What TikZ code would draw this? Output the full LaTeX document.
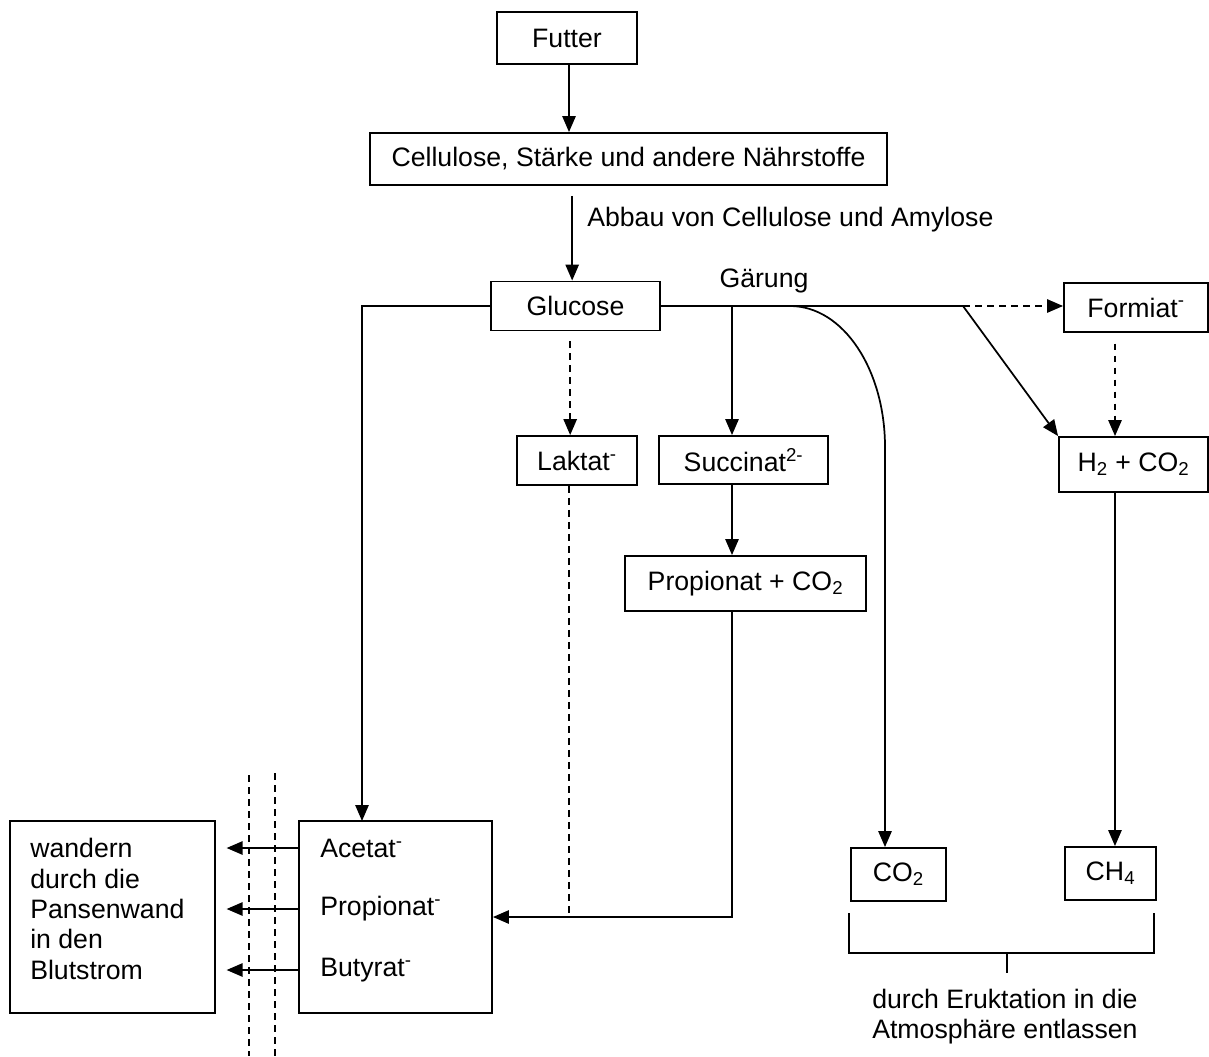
\documentclass[tikz,border=0pt]{standalone}
\usepackage{fontspec}
\setmainfont{Liberation Sans}
\usetikzlibrary{arrows.meta}

\begin{document}
\begin{tikzpicture}[x=0.75pt, y=-0.75pt, font=\fontsize{20}{22.75}\selectfont,
    kasten/.style={draw=black, line width=1.4pt, inner sep=0pt},
    beschrift/.style={inner xsep=0pt},
    linie/.style={line width=1.3pt},
    pfeil/.style={linie, -{Triangle[length=12pt, width=10pt]}},
    gestrichelt/.style={dash pattern=on 5pt off 4pt}]
    \useasboundingbox (0,0) rectangle (1209,1056);
    % Futter und Abbau
    \node[kasten, minimum width=105pt, minimum height=39pt] (futter) at (567,38) {Futter};
    \node[kasten, minimum width=387.75pt, minimum height=39pt] (cellulose) at (628.5,159) {Cellulose, Stärke und andere Nährstoffe};
    \node[kasten, minimum width=126.75pt, minimum height=36.75pt] (glucose) at (575.5,306) {Glucose};
    \node[beschrift, anchor=west] (abbau) at (587,220) {Abbau von Cellulose und Amylose};
    \node (gaerung) at (764,281) {Gärung};
    \draw[pfeil] ([xshift=1.5pt]futter.south) -- ([xshift=1.5pt]futter.south |- cellulose.north);
    \draw[pfeil, shorten <=7.5pt] ([xshift=-2.5pt]glucose.north |- cellulose.south) -- ([xshift=-2.5pt]glucose.north);
    % Gaerungsprodukte
    \node[kasten, minimum width=108pt, minimum height=36.75pt] (formiat) at (1136,307.5) {Formiat\textsuperscript{-}};
    \node[kasten, minimum width=111.75pt, minimum height=41.25pt] (h2co2) at (1133.5,464.5) {H\textsubscript{2} + CO\textsubscript{2}};
    \node[kasten, minimum width=90pt, minimum height=36.75pt] (laktat) at (577,460.5) {Laktat\textsuperscript{-}};
    \node[kasten, minimum width=126.75pt, minimum height=36pt] (succinat) at (743.5,460) {Succinat\textsuperscript{2-}};
    \node[kasten, minimum width=180.75pt, minimum height=41.25pt] (propionat) at (745.5,583.5) {Propionat + CO\textsubscript{2}};
    \node[kasten, minimum width=71.25pt, minimum height=39.75pt] (co2) at (898.5,874.5) {CO\textsubscript{2}};
    \node[kasten, minimum width=68.25pt, minimum height=39.75pt] (ch4) at (1110.5,873.5) {CH\textsubscript{4}};
    \coordinate (abzw) at (963,306);
    \coordinate (abzwS) at (732,306);
    \coordinate (abzwC) at (790,306);
    \coordinate (bogen) at (885,447);
    \draw[linie] (glucose.east) -- (abzw);
    \draw[pfeil, gestrichelt] (abzw) -- (abzw -| formiat.west);
    \draw[pfeil] (abzw) -- (h2co2.north west);
    \draw[pfeil, gestrichelt, shorten <=8pt] ([xshift=-15.75pt]formiat.south) -- ([xshift=-15.75pt]formiat.south |- h2co2.north);
    \draw[pfeil, gestrichelt, shorten <=7.5pt] ([xshift=-4pt]glucose.south) -- ([xshift=-4pt]glucose.south |- laktat.north);
    \draw[pfeil] (abzwS) -- (abzwS |- succinat.north);
    \draw[pfeil] (abzwS |- succinat.south) -- (abzwS |- propionat.north);
    \draw[pfeil] (abzwC) .. controls (843.5,306) and (885,370) .. (bogen) -- (bogen |- co2.north);
    \draw[pfeil] ([xshift=-13.9pt]h2co2.south) -- ([xshift=-13.9pt]h2co2.south |- ch4.north);
    % Fettsaeuren
    \node[kasten, minimum width=144.75pt, minimum height=144pt] (saeuren) at (395.5,917) {};
    \node[beschrift, anchor=west] (acetat) at (320,848) {Acetat\textsuperscript{-}};
    \node[beschrift, anchor=west] (propionat2) at (320,909) {Propionat\textsuperscript{-}};
    \node[beschrift, anchor=west] (butyrat) at (320,970) {Butyrat\textsuperscript{-}};
    \coordinate (acin) at (362,821);
    \draw[pfeil] (glucose.west) -| (acin);
    \draw[pfeil] (propionat.south -| abzwS) |- (saeuren.east);
    \draw[linie, gestrichelt] ([xshift=-6pt]laktat.south) -- ([xshift=-6pt]laktat.south |- saeuren.east);
    % Pansenwand
    \node[kasten, minimum width=153.75pt, minimum height=144pt] (blut) at (112.5,917) {};
    \node[beschrift, anchor=west, align=left] (wandern) at (30,909) {wandern\\durch die\\Pansenwand\\in den\\Blutstrom};
    \draw[linie, gestrichelt] (249,775) -- (249,1056);
    \draw[linie, gestrichelt] (275,773) -- (275,1056);
    \draw[pfeil, shorten >=8pt] (saeuren.west |- acetat) -- (blut.east |- acetat);
    \draw[pfeil, shorten >=8pt] (saeuren.west |- propionat2) -- (blut.east |- propionat2);
    \draw[pfeil, shorten >=8pt] (saeuren.west |- butyrat) -- (blut.east |- butyrat);
    % Eruktation
    \draw[linie] (849,913) -- (849,953) -- (1154,953) -- (1154,913);
    \draw[linie] (1007,953) -- (1007,973);
    \node[beschrift, anchor=north west, align=left] (eruktation) at (872,984) {durch Eruktation in die\\Atmosphäre entlassen};
\end{tikzpicture}
\end{document}
